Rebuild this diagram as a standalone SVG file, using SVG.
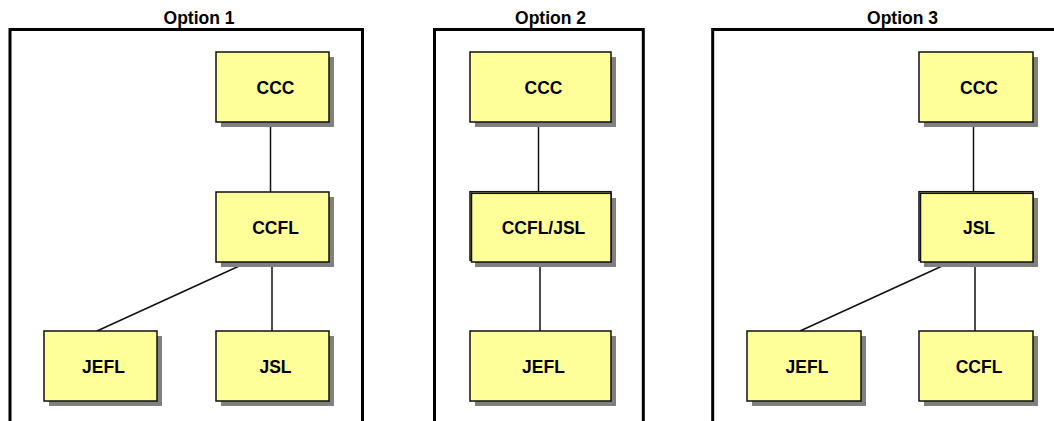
<svg xmlns="http://www.w3.org/2000/svg" width="1054" height="421" viewBox="0 0 1054 421">
  <style>
    .frame { fill: none; stroke: #000; stroke-width: 3; }
    .title { font-family: "Liberation Sans", Arial, sans-serif; font-weight: bold; font-size: 17.5px; text-anchor: middle; fill: #000; }
    .shadow { fill: #808080; }
    .box { fill: #FFFF99; stroke: #111; stroke-width: 1.5; }
    .edge { fill: none; stroke: #111; stroke-width: 1.5; }
    .lbl { font-family: "Liberation Sans", Arial, sans-serif; font-weight: bold; font-size: 17.5px; text-anchor: middle; fill: #000; }
  </style>
  <rect width="1054" height="421" fill="#fff"/>

  <!-- panel frames (open at the bottom) and titles -->
  <g id="panels">
    <path class="frame" d="M10,421 V29.5 H362.5 V421"/>
    <path class="frame" d="M434.5,421 V29.5 H643.3 V421"/>
    <path class="frame" d="M712.7,421 V29.5 H1056"/>
    <text class="title" x="199" y="24.3">Option 1</text>
    <text class="title" x="550.5" y="24.3">Option 2</text>
    <text class="title" x="902.5" y="24.3">Option 3</text>
  </g>

  <!-- connectors -->
  <g id="connectors">
    <line class="edge" x1="270.5" y1="122" x2="270.5" y2="192"/>
    <line class="edge" x1="272" y1="262" x2="272" y2="331"/>
    <line class="edge" x1="248" y1="262" x2="97" y2="331"/>

    <line class="edge" x1="538.5" y1="122" x2="538.5" y2="193"/>
    <line class="edge" x1="540" y1="262" x2="540" y2="331"/>

    <line class="edge" x1="973.5" y1="122" x2="973.5" y2="193"/>
    <line class="edge" x1="975" y1="262" x2="975" y2="331"/>
    <line class="edge" x1="951" y1="262" x2="800" y2="331"/>
  </g>

  <!-- Option 1 -->
  <g id="o1-ccc">
    <rect class="shadow" x="221" y="57" width="113" height="70"/>
    <rect class="box" x="216" y="52" width="113" height="70"/>
    <text class="lbl" x="275.5" y="94">CCC</text>
  </g>
  <g id="o1-ccfl">
    <rect class="shadow" x="221" y="197" width="113" height="70"/>
    <rect class="box" x="216" y="192" width="113" height="70"/>
    <text class="lbl" x="275.5" y="233.5">CCFL</text>
  </g>
  <g id="o1-jefl">
    <rect class="shadow" x="49" y="336" width="113" height="70"/>
    <rect class="box" x="44" y="331" width="113" height="70"/>
    <text class="lbl" x="103.5" y="373">JEFL</text>
  </g>
  <g id="o1-jsl">
    <rect class="shadow" x="221" y="336" width="113" height="70"/>
    <rect class="box" x="216" y="331" width="113" height="70"/>
    <text class="lbl" x="275.5" y="373">JSL</text>
  </g>

  <!-- Option 2 -->
  <g id="o2-ccc">
    <rect class="shadow" x="475" y="57" width="141" height="70"/>
    <rect class="box" x="470" y="52" width="141" height="70"/>
    <text class="lbl" x="543.5" y="94">CCC</text>
  </g>
  <g id="o2-ccfl-jsl">
    <rect class="shadow" x="475" y="198" width="141" height="69"/>
    <rect class="box" x="470" y="191.7" width="141" height="68.5"/>
    <rect class="box" x="471.5" y="193.3" width="139.5" height="68.7"/>
    <text class="lbl" x="543.5" y="233.5">CCFL/JSL</text>
  </g>
  <g id="o2-jefl">
    <rect class="shadow" x="475" y="336" width="141" height="70"/>
    <rect class="box" x="470" y="331" width="141" height="70"/>
    <text class="lbl" x="543.5" y="373">JEFL</text>
  </g>

  <!-- Option 3 -->
  <g id="o3-ccc">
    <rect class="shadow" x="924" y="57" width="114" height="70"/>
    <rect class="box" x="919" y="52" width="114" height="70"/>
    <text class="lbl" x="979" y="94">CCC</text>
  </g>
  <g id="o3-jsl">
    <rect class="shadow" x="924" y="198" width="114" height="69"/>
    <rect class="box" x="919" y="191.7" width="114" height="68.5"/>
    <rect class="box" x="920.5" y="193.3" width="112.5" height="68.7"/>
    <text class="lbl" x="979" y="233.5">JSL</text>
  </g>
  <g id="o3-jefl">
    <rect class="shadow" x="752" y="336" width="114" height="70"/>
    <rect class="box" x="747" y="331" width="114" height="70"/>
    <text class="lbl" x="807" y="373">JEFL</text>
  </g>
  <g id="o3-ccfl">
    <rect class="shadow" x="924" y="336" width="114" height="70"/>
    <rect class="box" x="919" y="331" width="114" height="70"/>
    <text class="lbl" x="979" y="373">CCFL</text>
  </g>
</svg>
